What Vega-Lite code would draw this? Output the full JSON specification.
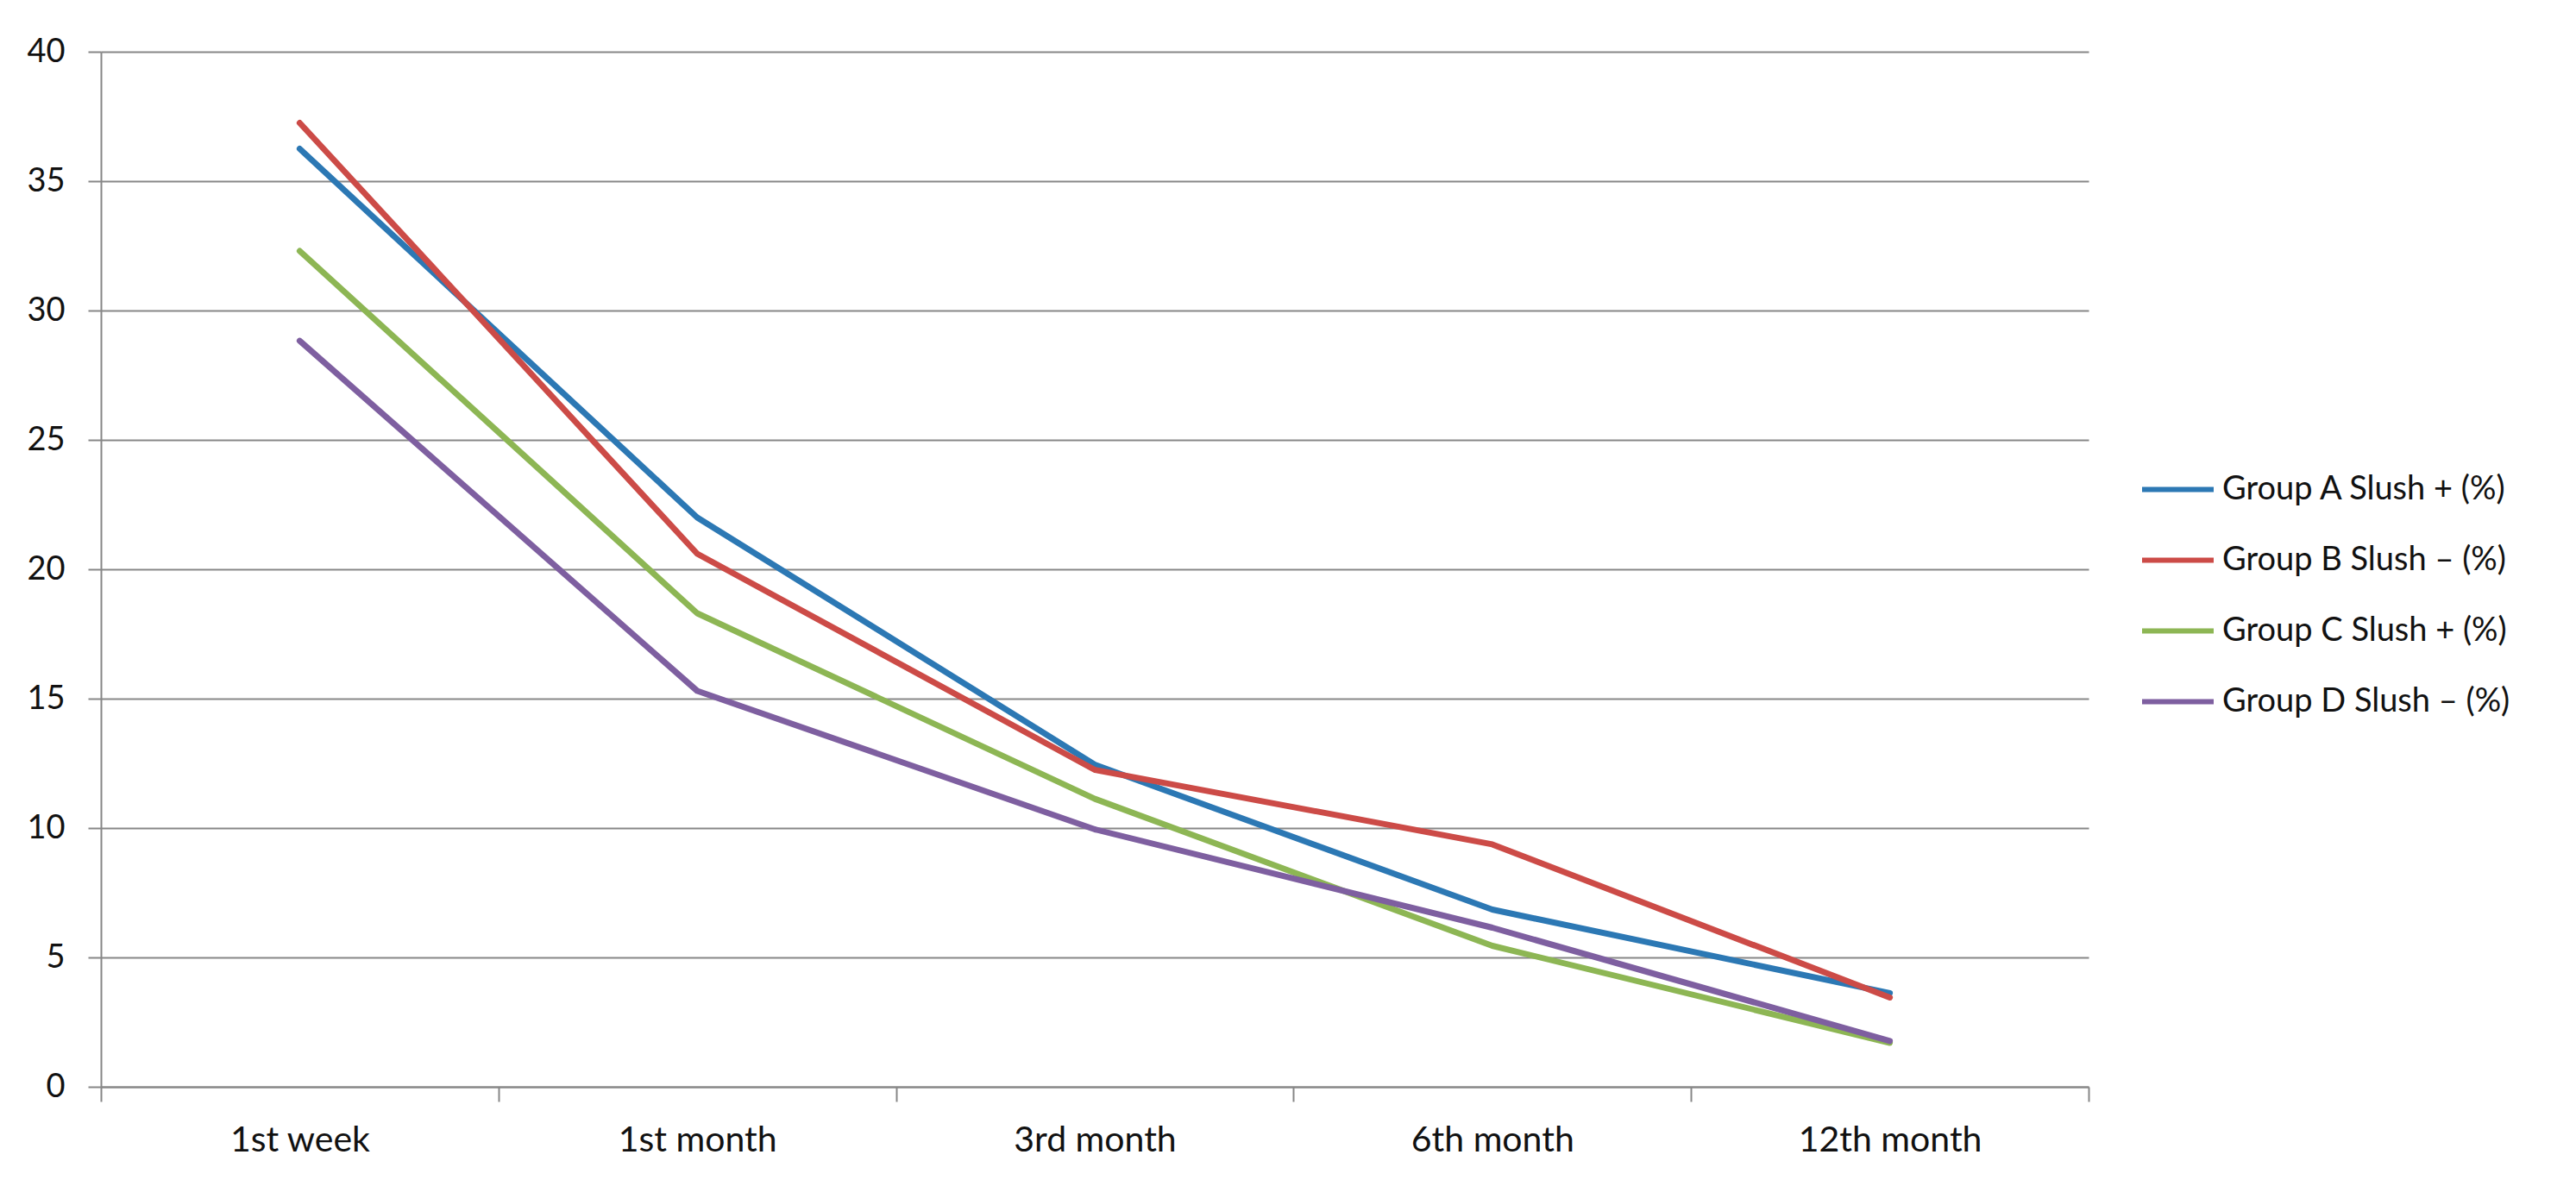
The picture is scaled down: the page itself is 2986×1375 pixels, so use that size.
{
  "$schema": "https://vega.github.io/schema/vega-lite/v6.json",
  "width": 2304,
  "height": 1200,
  "autosize": {"type": "none"},
  "padding": {"left": 117, "top": 60, "right": 565, "bottom": 115},
  "background": "white",
  "config": {
    "font": "Lato",
    "view": {"stroke": null},
    "axis": {"labelFont": "Lato", "labelFontSize": 38, "labelColor": "#111111", "domainColor": "#878787", "tickColor": "#878787", "gridColor": "#878787", "domainWidth": 2, "tickWidth": 2, "gridWidth": 2, "gridOpacity": 1}
  },
  "data": {
    "values": [
      {"time": "1st week", "group": "Group A Slush + (%)", "value": 36.25},
      {"time": "1st month", "group": "Group A Slush + (%)", "value": 22.0},
      {"time": "3rd month", "group": "Group A Slush + (%)", "value": 12.45},
      {"time": "6th month", "group": "Group A Slush + (%)", "value": 6.85},
      {"time": "12th month", "group": "Group A Slush + (%)", "value": 3.62},
      {"time": "1st week", "group": "Group B Slush – (%)", "value": 37.25},
      {"time": "1st month", "group": "Group B Slush – (%)", "value": 20.6},
      {"time": "3rd month", "group": "Group B Slush – (%)", "value": 12.25},
      {"time": "6th month", "group": "Group B Slush – (%)", "value": 9.37},
      {"time": "12th month", "group": "Group B Slush – (%)", "value": 3.45},
      {"time": "1st week", "group": "Group C Slush + (%)", "value": 32.3},
      {"time": "1st month", "group": "Group C Slush + (%)", "value": 18.3},
      {"time": "3rd month", "group": "Group C Slush + (%)", "value": 11.13},
      {"time": "6th month", "group": "Group C Slush + (%)", "value": 5.45},
      {"time": "12th month", "group": "Group C Slush + (%)", "value": 1.7},
      {"time": "1st week", "group": "Group D Slush – (%)", "value": 28.83},
      {"time": "1st month", "group": "Group D Slush – (%)", "value": 15.3},
      {"time": "3rd month", "group": "Group D Slush – (%)", "value": 9.95},
      {"time": "6th month", "group": "Group D Slush – (%)", "value": 6.15},
      {"time": "12th month", "group": "Group D Slush – (%)", "value": 1.77}
    ]
  },
  "mark": {"type": "line", "strokeWidth": 7, "strokeCap": "round", "strokeJoin": "round"},
  "encoding": {
    "x": {
      "field": "time",
      "type": "ordinal",
      "sort": ["1st week", "1st month", "3rd month", "6th month", "12th month"],
      "bandPosition": 0.5,
      "scale": {"type": "band", "paddingInner": 0, "paddingOuter": 0},
      "axis": {"title": null, "labelAngle": 0, "tickBand": "extent", "tickSize": 17, "labelPadding": 25, "labelFontSize": 41, "labelLimit": 500, "grid": false}
    },
    "y": {
      "field": "value",
      "type": "quantitative",
      "scale": {"domain": [0, 40], "nice": false},
      "axis": {"title": null, "values": [0, 5, 10, 15, 20, 25, 30, 35, 40], "tickSize": 15, "labelPadding": 27, "grid": true}
    },
    "color": {
      "field": "group",
      "type": "nominal",
      "scale": {
        "domain": ["Group A Slush + (%)", "Group B Slush – (%)", "Group C Slush + (%)", "Group D Slush – (%)"],
        "range": ["#2c78b4", "#cc4b47", "#8db654", "#7e5fa0"]
      },
      "legend": {
        "title": null,
        "orient": "none",
        "legendX": 2363,
        "legendY": 463,
        "symbolType": "stroke",
        "symbolSize": 6889,
        "symbolStrokeWidth": 6,
        "labelFont": "Lato",
        "labelFontSize": 38,
        "labelColor": "#111111",
        "labelOffset": 7,
        "rowPadding": 18,
        "padding": 0,
        "labelLimit": 600
      }
    }
  }
}
